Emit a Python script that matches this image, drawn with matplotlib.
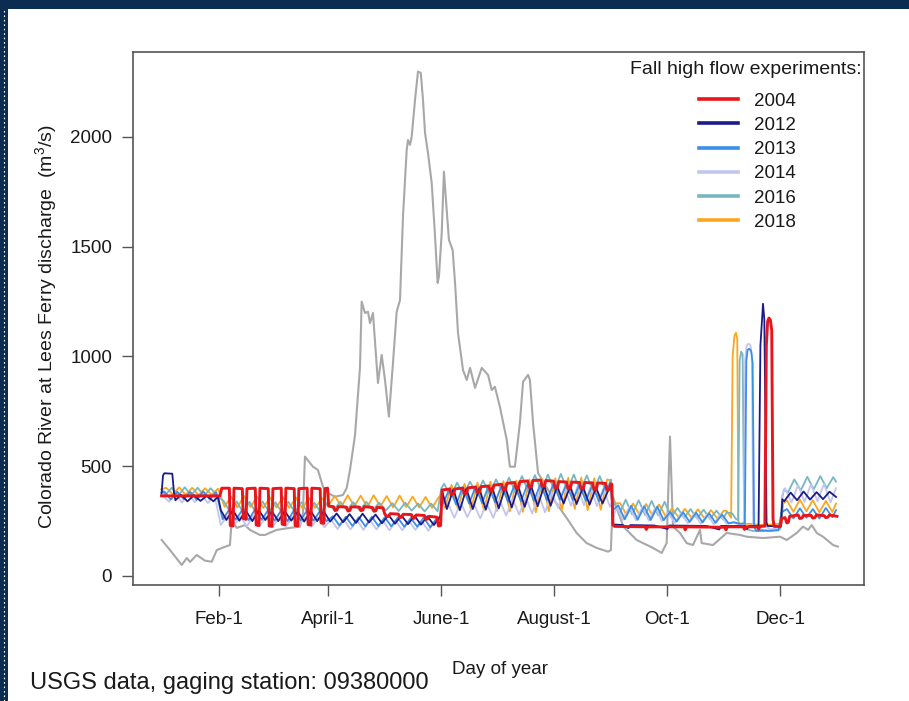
import matplotlib
matplotlib.use('Agg')
import matplotlib.pyplot as plt
from matplotlib.lines import Line2D
from matplotlib.patches import Rectangle

plt.rcParams['font.family'] = ['Liberation Sans', 'DejaVu Sans']
plt.rcParams['mathtext.fontset'] = 'custom'
plt.rcParams['mathtext.rm'] = 'Liberation Sans'
plt.rcParams['mathtext.it'] = 'Liberation Sans:italic'
plt.rcParams['mathtext.bf'] = 'Liberation Sans:bold'

# ---------------- data (day of year, discharge m3/s) ----------------
tick_days = [32, 91, 152, 213, 274, 335]
tick_labels = ['Feb-1', 'April-1', 'June-1', 'August-1', 'Oct-1', 'Dec-1']
y_ticks = [0, 500, 1000, 1500, 2000]

grey_day = [1.1, 5.6, 11.9, 14.6, 16.4, 20, 24.4, 28.1, 30.8, 35.2,
            37.9, 38.9, 41.6, 46, 48.7, 54.1, 56.8, 63.1, 70.3, 75.7,
            77.3, 78.4, 82.7, 85.4, 88.1, 90.8, 94.6, 98.9, 100.9, 102.7,
            105.4, 108.1, 109, 110.8, 112.4, 113.5, 115.1, 117.8, 119.8, 121.6,
            123.7, 125.9, 127.9, 129.7, 131.3, 133.3, 134, 135.1, 136, 137.8,
            139.4, 140.9, 142.1, 143.2, 144.8, 146.8, 148.5, 150, 150.7, 152.2,
            153.4, 154.9, 156.1, 158.1, 159.4, 161, 162, 163.7, 165.7, 167.5,
            170.2, 173.8, 177.2, 179.2, 180.9, 183.6, 187.3, 189, 191.7, 194.4,
            196.1, 198.8, 199.8, 201.5, 204.2, 213.4, 220.4, 225, 230.4, 235.8,
            241.9, 243.5, 244.6, 250.2, 257.4, 266.2, 270.9, 273.6, 275.4, 277,
            280.8, 284.4, 287.8, 291.6, 292.5, 298.6, 306, 313.2, 316.8, 325.6,
            334.8, 338.4, 343.8, 347.2, 349.9, 351.9, 354.6, 358, 363.4, 366]
grey_q = [164, 118, 50, 82, 64, 96, 70, 65, 118, 133,
          141, 255, 219, 232, 210, 187, 187, 210, 219, 225,
          287, 544, 498, 483, 407, 378, 361, 369, 400, 483,
          640, 950, 1250, 1198, 1204, 1152, 1198, 879, 1007, 893,
          726, 970, 1204, 1257, 1637, 1941, 1986, 1964, 2002, 2169,
          2298, 2292, 2169, 2018, 1927, 1790, 1562, 1335, 1364, 1562,
          1842, 1667, 1531, 1485, 1335, 1107, 1045, 938, 893, 948,
          857, 948, 916, 847, 862, 771, 620, 498, 498, 697,
          885, 916, 893, 697, 469, 339, 255, 196, 150, 128,
          111, 118, 361, 225, 164, 128, 105, 150, 635, 225,
          196, 150, 141, 210, 150, 141, 196, 187, 179, 173,
          179, 164, 196, 225, 210, 232, 196, 179, 141, 134]

y2004_day = [1, 32.5, 33.5, 37.6, 38.1, 39.6, 40.1, 44.6, 45.1, 46.6, 47.1,
             51.6, 52.1, 53.6, 54.1, 58.6, 59.1, 60.6, 61.1, 65.6, 66.1, 67.6, 68.1,
             72.6, 73.1, 74.6, 75.1, 79.6, 80.1, 81.6, 82.1, 86.6, 87.1, 88.6, 89.1,
             90.6, 91.2, 93.8, 94.6, 95.6, 96.4, 100.8, 101.6, 102.6, 103.4,
             107.8, 108.6, 109.6, 110.4, 114.8, 115.6, 116.6, 117.4, 120.5, 121.5,
             122.6, 123.6, 124.4, 128.8, 129.6, 130.6, 131.4, 135.8, 136.6, 137.6,
             138.4, 142.8, 143.6, 144.6, 145.4, 149.6, 150.4, 151.6, 152.4,
             156.6, 157.4, 158.6, 159.4, 163.6, 164.4, 165.6, 166.4, 170.6, 171.4,
             172.6, 173.4, 177.6, 178.4, 179.6, 180.4, 184.6, 185.4, 186.6, 187.4,
             191.6, 192.4, 193.6, 194.4, 198.6, 199.4, 200.6, 201.4, 205.6, 206.4,
             207.6, 208.4, 212.6, 213.4, 214.6, 215.4, 219.6, 220.4, 221.6, 222.4,
             226.6, 227.4, 228.6, 229.4, 233.6, 234.4, 235.6, 236.4, 240.6, 241.4,
             242.6, 243.4, 244.0, 244.6, 245.5, 262, 262.6, 263.4, 283, 283.6, 284.4,
             305, 305.6, 306.4, 315, 315.6, 316.4, 322.6, 323.3, 324, 326.6,
             327.4, 328.1, 328.8, 329.6, 330.3, 331.0, 331.6, 335.0, 335.6, 337.5,
             338.4, 339.2, 340.0, 344.6, 345.4, 346.6, 347.4, 351.6, 352.4, 353.6,
             354.4, 358.6, 359.4, 360.6, 361.4, 365.5]
y2004_q = [365, 365, 400, 400, 230, 228, 400, 398, 262, 258, 398,
           400, 232, 230, 400, 398, 228, 226, 398, 400, 236, 234, 400,
           398, 230, 228, 398, 400, 234, 232, 400, 398, 242, 240, 398,
           400, 318, 316, 298, 300, 316, 314, 296, 298, 315,
           314, 298, 300, 316, 312, 295, 297, 313, 310, 282,
           270, 272, 284, 282, 266, 268, 281, 280, 262, 264,
           278, 276, 258, 260, 272, 268, 228, 230, 392,
           396, 372, 374, 397, 400, 376, 378, 402, 405, 380,
           382, 407, 410, 386, 388, 414, 418, 392, 394, 422,
           426, 398, 400, 430, 433, 404, 406, 435, 437, 408,
           410, 435, 432, 400, 402, 430, 428, 398, 400, 428,
           426, 396, 398, 426, 424, 394, 396, 424, 422, 392,
           394, 420, 418, 232, 226, 224, 212, 224, 224, 210, 224,
           222, 210, 224, 224, 212, 224, 224, 214, 226, 228,
           1050, 1160, 1175, 1165, 1120, 260, 226, 226, 262, 266,
           242, 244, 272, 278, 262, 264, 276, 276, 264, 266,
           278, 275, 266, 268, 278, 272]

y2012_day = [1, 1.8, 2.5, 6.8, 7.8, 8.5, 11.5, 15, 18.5, 22,
             25.5, 29, 31.5, 33, 36, 39.5, 43, 46.5, 50, 53.5,
             57, 60.5, 64, 67.5, 71, 74.5, 78, 81.5, 85, 88.5,
             92, 95.5, 99, 102.5, 106, 109.5, 113, 116.5, 120, 123.5,
             127, 130.5, 134, 137.5, 141, 144.5, 148, 151.5, 152.5, 155,
             158.5, 162, 165.5, 169, 172.5, 176, 179.5, 183, 186.5, 190,
             193.5, 197, 200.5, 204, 207.5, 211, 214.5, 218, 221.5, 225,
             228.5, 232, 235.5, 239, 242.5, 243.8, 244.5, 250, 253, 254,
             267, 274, 275, 295, 302, 303, 316, 317, 318, 323.2,
             324.2, 325.6, 326.3, 327.5, 328, 335.3, 336, 337, 340.5, 344,
             347.5, 351, 354.5, 358, 361.5, 365]
y2012_q = [375, 458, 468, 466, 372, 345, 370, 340, 368, 342,
           366, 340, 362, 300, 255, 300, 252, 298, 250, 300,
           255, 295, 250, 296, 252, 294, 248, 296, 250, 295,
           248, 285, 245, 282, 242, 284, 244, 280, 240, 278,
           238, 276, 236, 274, 234, 272, 232, 275, 385, 305,
           395, 300, 398, 305, 400, 302, 402, 308, 405, 312,
           408, 315, 410, 318, 412, 320, 410, 330, 408, 328,
           405, 325, 402, 330, 398, 395, 235, 232, 218, 232,
           230, 214, 230, 228, 212, 228, 228, 214, 228, 228,
           1050, 1240, 1170, 245, 228, 226, 350, 340, 380, 345,
           385, 348, 382, 350, 384, 360]

y2013_day = [1, 2.5, 6, 9.5, 13, 16.5, 20, 23.5, 27, 30.5,
             34, 37.5, 41, 44.5, 48, 51.5, 55, 58.5, 62, 65.5,
             69, 72.5, 76, 79.5, 83, 86.5, 90, 93.5, 97, 100.5,
             104, 107.5, 111, 114.5, 118, 121.5, 125, 128.5, 132, 135.5,
             139, 142.5, 146, 149.5, 151.5, 152.5, 153, 156.5, 160, 163.5,
             167, 170.5, 174, 177.5, 181, 184.5, 188, 191.5, 195, 198.5,
             202, 205.5, 209, 212.5, 216, 219.5, 223, 226.5, 230, 233.5,
             237, 240.5, 243.5, 244.5, 247.5, 251, 254.5, 258, 261.5, 265,
             268.5, 272, 275.5, 279, 282.5, 286, 289.5, 293, 296.5, 300,
             303.5, 307, 310, 313, 315.8, 316.6, 317.3, 318.2, 319.2, 320,
             320.8, 322, 328, 334, 335.5, 338.5, 342, 345.5, 349, 352.5,
             356, 359.5, 363, 365]
y2013_q = [380, 385, 348, 384, 350, 383, 347, 385, 350, 382,
           258, 302, 256, 300, 255, 304, 256, 300, 252, 298,
           250, 300, 254, 298, 252, 296, 250, 272, 230, 270,
           228, 268, 226, 270, 228, 268, 226, 266, 224, 264,
           225, 266, 222, 262, 258, 380, 330, 400, 325, 405,
           330, 408, 332, 410, 335, 412, 338, 415, 340, 418,
           342, 420, 345, 420, 348, 418, 345, 416, 342, 414,
           340, 412, 405, 300, 322, 258, 320, 256, 318, 255,
           316, 254, 292, 248, 290, 246, 288, 244, 286, 242,
           280, 240, 245, 238, 240, 980, 1030, 1035, 1025, 970,
           225, 205, 206, 208, 290, 305, 262, 308, 265, 305,
           262, 310, 268, 300]

y2014_day = [1, 5, 8.5, 12, 15.5, 19, 22.5, 26, 29.5, 33,
             36.5, 40, 43.5, 47, 50.5, 54, 57.5, 61, 64.5, 68,
             71.5, 75, 78.5, 82, 85.5, 89, 92.5, 96, 99.5, 103,
             106.5, 110, 113.5, 117, 120.5, 124, 127.5, 131, 134.5, 138,
             141.5, 145, 148.5, 151.5, 152.5, 155.5, 159, 162.5, 166, 169.5,
             173, 176.5, 180, 183.5, 187, 190.5, 194, 197.5, 201, 204.5,
             208, 211.5, 215, 218.5, 222, 225.5, 229, 232.5, 236, 239.5,
             243, 243.8, 245, 246.5, 250, 253.5, 257, 260.5, 264, 267.5,
             271, 274.5, 278, 281.5, 285, 288.5, 292, 295.5, 299, 302.5,
             306, 309.5, 313, 315.2, 316, 316.8, 317.8, 318.8, 319.6, 320.3,
             322, 327, 330, 334, 335, 336, 337.5, 341, 344.5, 348,
             351.5, 355, 358.5, 362, 365]
y2014_q = [372, 338, 376, 334, 374, 336, 372, 332, 370, 232,
           275, 228, 272, 226, 274, 228, 270, 224, 268, 222,
           270, 226, 268, 224, 266, 222, 258, 214, 256, 212,
           254, 210, 256, 212, 252, 208, 250, 208, 252, 210,
           248, 206, 250, 248, 320, 332, 265, 335, 268, 330,
           262, 332, 265, 345, 275, 350, 280, 360, 285, 372,
           290, 380, 310, 405, 320, 408, 322, 405, 318, 400,
           315, 330, 270, 318, 256, 316, 254, 314, 252, 312,
           250, 288, 242, 286, 240, 285, 238, 282, 236, 278,
           238, 244, 232, 238, 990, 1050, 1058, 1052, 1000, 230,
           220, 224, 212, 222, 230, 370, 400, 335, 415, 338,
           418, 340, 420, 335, 400]

y2016_day = [1, 3, 6.5, 10, 13.5, 17, 20.5, 24, 27.5, 31,
             34.5, 38, 41.5, 45, 48.5, 52, 55.5, 59, 62.5, 66,
             69.5, 73, 76.5, 80, 83.5, 87, 90.5, 94, 97.5, 101,
             104.5, 108, 111.5, 115, 118.5, 122, 125.5, 129, 132.5, 136,
             139.5, 143, 146.5, 150, 152, 153.5, 157, 160.5, 164, 167.5,
             171, 174.5, 178, 181.5, 185, 188.5, 192, 195.5, 199, 202.5,
             206, 209.5, 213, 216.5, 220, 223.5, 227, 230.5, 234, 237.5,
             241, 243.5, 244.5, 248, 251.5, 255, 258.5, 262, 265.5, 269,
             272.5, 276, 279.5, 283, 286.5, 290, 293.5, 297, 300.5, 304,
             306, 309, 311, 312.2, 313, 313.8, 314.6, 315.4, 316, 320,
             325, 330, 335, 336, 337, 339, 342.5, 346, 349.5, 353,
             356.5, 360, 363.5, 365]
y2016_q = [395, 368, 402, 366, 404, 368, 402, 365, 400, 366,
           342, 292, 340, 290, 338, 288, 340, 292, 336, 288,
           338, 290, 336, 286, 334, 288, 334, 302, 338, 300,
           336, 298, 338, 300, 334, 298, 332, 296, 334, 298,
           330, 294, 330, 295, 400, 420, 365, 425, 370, 430,
           372, 435, 375, 440, 380, 448, 382, 455, 385, 460,
           388, 462, 390, 465, 392, 462, 388, 458, 385, 455,
           382, 440, 345, 282, 348, 280, 345, 278, 342, 276,
           338, 268, 310, 265, 305, 262, 302, 260, 298, 258,
           290, 285, 260, 255, 980, 1022, 1010, 240, 215, 205,
           210, 205, 215, 360, 395, 380, 440, 390, 452, 395,
           455, 400, 450, 430]

y2018_day = [1, 3.5, 7, 10.5, 14, 17.5, 21, 24.5, 28, 31.5,
             35, 38.5, 42, 45.5, 49, 52.5, 56, 59.5, 63, 66.5,
             70, 73.5, 77, 80.5, 84, 87.5, 91, 94.5, 98, 101.5,
             105, 108.5, 112, 115.5, 119, 122.5, 126, 129.5, 133, 136.5,
             140, 143.5, 147, 150.5, 152, 154, 157.5, 161, 164.5, 168,
             171.5, 175, 178.5, 182, 185.5, 189, 192.5, 196, 199.5, 203,
             206.5, 210, 213.5, 217, 220.5, 224, 227.5, 231, 234.5, 238,
             241.5, 243.6, 244.5, 248.5, 252, 255.5, 259, 262.5, 266, 269.5,
             273, 276.5, 280, 283.5, 287, 290.5, 294, 297.5, 301, 304.5,
             306, 308.4, 309.2, 310.2, 311, 311.7, 312.3, 313, 318, 325,
             332, 335.5, 336.5, 338.5, 342, 345.5, 349, 352.5, 356, 359.5,
             363, 365]
y2018_q = [395, 402, 372, 404, 370, 402, 368, 400, 370, 398,
           315, 362, 312, 365, 314, 362, 310, 358, 312, 360,
           310, 358, 308, 356, 310, 355, 320, 365, 315, 368,
           318, 366, 314, 368, 316, 364, 312, 366, 314, 362,
           312, 360, 310, 358, 370, 310, 415, 305, 420, 300,
           425, 298, 430, 296, 432, 295, 435, 292, 440, 290,
           442, 295, 445, 300, 448, 305, 448, 300, 445, 302,
           440, 435, 330, 332, 276, 330, 278, 328, 275, 326,
           272, 308, 268, 306, 265, 304, 262, 300, 262, 298,
           296, 265, 1000, 1095, 1108, 1080, 250, 235, 238, 232,
           236, 240, 330, 345, 292, 348, 295, 345, 290, 342,
           292, 330]

years = ['2004', '2012', '2013', '2014', '2016', '2018']
colors = {'2004': '#e8161b', '2012': '#1b1b8a', '2013': '#3c8ee8',
          '2014': '#c2c6ee', '2016': '#78b6c0', '2018': '#fba61e'}
grey_color = '#a8a8a8'

series = {'2004': (y2004_day, y2004_q), '2012': (y2012_day, y2012_q),
          '2013': (y2013_day, y2013_q), '2014': (y2014_day, y2014_q),
          '2016': (y2016_day, y2016_q), '2018': (y2018_day, y2018_q)}

# ---------------- figure ----------------
W, H = 909, 701
fig = plt.figure(figsize=(W / 100, H / 100), dpi=100)
navy = '#0c2d52'
fig.patches.append(Rectangle((0, 1 - 9 / H), 1, 9 / H, transform=fig.transFigure,
                             facecolor=navy, edgecolor='none', zorder=0))
fig.patches.append(Rectangle((0, 0), 8 / W, 1, transform=fig.transFigure,
                             facecolor=navy, edgecolor='none', zorder=0))
fig.add_artist(Line2D([3.5 / W, 3.5 / W], [0, 1 - 9 / H], transform=fig.transFigure,
                      color='white', lw=0.8, ls=(0, (1.5, 2.5))))

ax = fig.add_axes([133 / W, 116 / H, 731 / W, 533 / H])

ax.plot(grey_day, grey_q, color=grey_color, lw=1.5, solid_joinstyle='round', zorder=2)
draw_order = ['2018', '2016', '2014', '2013', '2012', '2004']
for i, yr in enumerate(draw_order):
    d, q = series[yr]
    ax.plot(d, q, color=colors[yr], lw=2.1 if yr == '2004' else 1.3,
            solid_joinstyle='round', zorder=3 + i)

ax.set_xlim(-14.4, 380.1)
ax.set_ylim(-41, 2387)
ax.set_xticks(tick_days)
ax.set_xticklabels(tick_labels)
ax.set_yticks(y_ticks)
ax.tick_params(axis='both', direction='out', length=8, width=1.0, color='#555555',
               labelsize=13.5, labelcolor='#1a1a1a')
ax.tick_params(axis='x', pad=11)
ax.tick_params(axis='y', pad=7)
for s in ax.spines.values():
    s.set_color('#555555')
    s.set_linewidth(1.2)

fig.text(862 / W, 1 - 70 / H, 'Fall high flow experiments:', ha='right', va='center',
         fontsize=14, color='#1a1a1a')
handles = [Line2D([], [], color=colors[y], lw=2.6) for y in years]
leg = ax.legend(handles, years, loc='upper left', bbox_to_anchor=(699 / W, 1 - 92.5 / H),
                bbox_transform=fig.transFigure, frameon=False, fontsize=13.5,
                handlelength=2.1, handletextpad=0.85,
                labelspacing=0.38, borderpad=0, borderaxespad=0)
for t in leg.get_texts():
    t.set_color('#1a1a1a')

fig.text(46 / W, 1 - 327 / H, r'Colorado River at Lees Ferry discharge  (m$^{3}$/s)',
         rotation=90, ha='center', va='center', fontsize=14, color='#1a1a1a')
fig.text(500 / W, 1 - 669 / H, 'Day of year', ha='center', va='center',
         fontsize=13.5, color='#1a1a1a')
fig.text(30 / W, 1 - 689 / H, 'USGS data, gaging station: 09380000', ha='left',
         va='baseline', fontsize=17, color='#1a1a1a')

fig.savefig('out.png', dpi=100)
